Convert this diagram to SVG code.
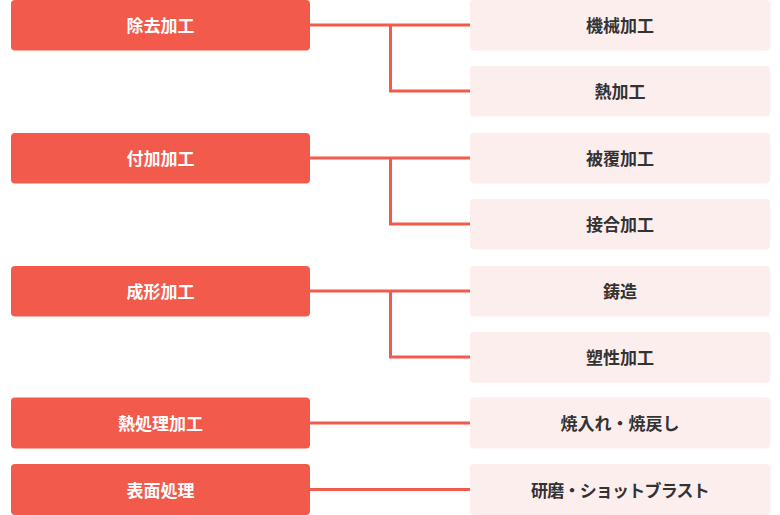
<svg xmlns="http://www.w3.org/2000/svg" width="780" height="515" viewBox="0 0 780 515">
<style>
.l{fill:#F25A4B}
.r{fill:#FDEEEE}
.t{font-family:"Noto Sans CJK JP","Noto Sans",sans-serif;font-weight:bold;font-size:17px;text-anchor:middle;dominant-baseline:central}
.lt{fill:#FFFFFF}
.rt{fill:#333333}
.c{fill:none;stroke:#F25A4B;stroke-width:3}
</style>
<g id="connectors">
<path class="c" d="M310 25H470M390.5 25V91H470"/>
<path class="c" d="M310 158H470M390.5 158V224H470"/>
<path class="c" d="M310 291H470M390.5 291V357H470"/>
<path class="c" d="M310 423H470"/>
<path class="c" d="M310 489.5H470"/>
</g>
<g id="n1"><rect class="l" x="11" y="0" width="299" height="50.5" rx="4"/><text class="t lt" x="160.5" y="24.5">除去加工</text></g>
<g id="n2"><rect class="l" x="11" y="133" width="299" height="50.5" rx="4"/><text class="t lt" x="160.5" y="157.5">付加加工</text></g>
<g id="n3"><rect class="l" x="11" y="266" width="299" height="50.5" rx="4"/><text class="t lt" x="160.5" y="290.5">成形加工</text></g>
<g id="n4"><rect class="l" x="11" y="397.5" width="299" height="51" rx="4"/><text class="t lt" x="160.5" y="422.5">熱処理加工</text></g>
<g id="n5"><rect class="l" x="11" y="464" width="299" height="51" rx="4"/><text class="t lt" x="160.5" y="489">表面処理</text></g>
<g id="r1"><rect class="r" x="470" y="0" width="300" height="50.5" rx="4"/><text class="t rt" x="620" y="24.5">機械加工</text></g>
<g id="r2"><rect class="r" x="470" y="66" width="300" height="50.5" rx="4"/><text class="t rt" x="620" y="90.5">熱加工</text></g>
<g id="r3"><rect class="r" x="470" y="133" width="300" height="50.5" rx="4"/><text class="t rt" x="620" y="157.5">被覆加工</text></g>
<g id="r4"><rect class="r" x="470" y="199" width="300" height="50.5" rx="4"/><text class="t rt" x="620" y="223.5">接合加工</text></g>
<g id="r5"><rect class="r" x="470" y="266" width="300" height="50.5" rx="4"/><text class="t rt" x="620" y="290.5">鋳造</text></g>
<g id="r6"><rect class="r" x="470" y="332" width="300" height="50.5" rx="4"/><text class="t rt" x="620" y="356.5">塑性加工</text></g>
<g id="r7"><rect class="r" x="470" y="397.5" width="300" height="51" rx="4"/><text class="t rt" x="620" y="422.5">焼入れ・焼戻し</text></g>
<g id="r8"><rect class="r" x="470" y="464" width="300" height="51" rx="4"/><text class="t rt" x="620" y="489" style="letter-spacing:-0.8px">研磨・ショットブラスト</text></g>
</svg>
